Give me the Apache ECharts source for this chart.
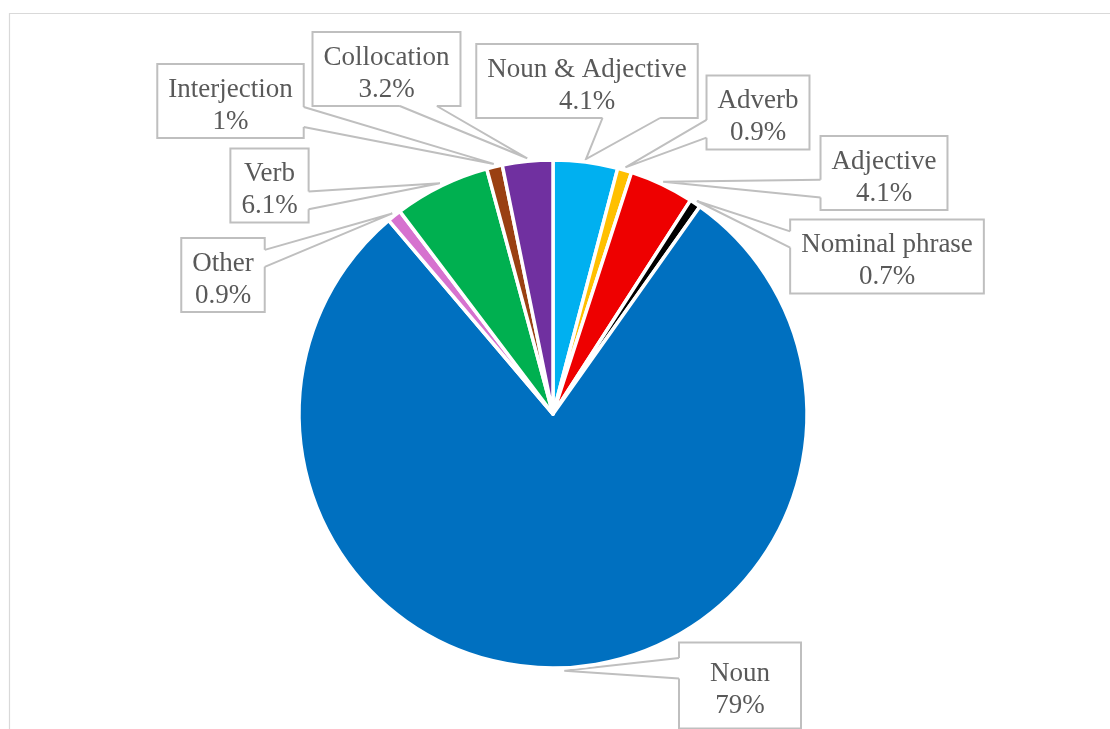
<!DOCTYPE html>
<html>
<head>
<meta charset="utf-8">
<script src="https://cdn.jsdelivr.net/npm/echarts@6/dist/echarts.min.js"></script>
<style>
  html, body { margin: 0; padding: 0; background: #fff; }
  #chart { width: 1110px; height: 729px; }
</style>
</head>
<body>
<div id="chart"></div>
<script>
// Word classes, clockwise from 12 o'clock
const categories = ['Noun & Adjective', 'Adverb', 'Adjective', 'Nominal phrase', 'Noun', 'Other', 'Verb', 'Interjection', 'Collocation'];
// Share of each class, in percent
const shares = [4.1, 0.9, 4.1, 0.7, 79, 0.9, 6.1, 1, 3.2];
const sliceColors = ['#00B0F0', '#FFC000', '#EE0000', '#000000', '#0070C0', '#D672CF', '#00B050', '#9A4012', '#7030A0'];

// Callout box centres (page pixels) and inner padding [vertical, horizontal]
const boxCenters = [[587, 81], [758, 112.5], [884, 173], [887, 256.5], [740, 685.5], [223, 275], [269.5, 185.5], [230.5, 101], [386.5, 69]];
const boxPadding = [[5, 11], [5, 11], [5, 11], [5, 11], [11, 31], [5, 11], [5, 11], [5, 11], [5, 11]];
// Which side of the box the pointer leaves from, and where along that side (fractions)
const pointerBase = [['bottom', 0.57, 0.83], ['left', 0.60, 0.84], ['left', 0.59, 0.83], ['left', 0.16, 0.38], ['left', 0.18, 0.42], ['right', 0.16, 0.39], ['right', 0.58, 0.82], ['right', 0.58, 0.85], ['bottom', 0.59, 0.84]];

const FONT = '"Liberation Serif", "Times New Roman", serif';
const FONT_SIZE = 27;
const LINE_H = 32;
const TEXT_DROP = 4.5;   // serif glyphs sit a little low in their box
const TEXT_COLOR = '#595959';
const BOX_STROKE = '#bfbfbf';

const chart = echarts.init(document.getElementById('chart'), null, { renderer: 'canvas' });

chart.setOption({
  animation: false,
  backgroundColor: '#fff',
  series: [{
    type: 'pie',
    z: 2,
    center: [553, 414],
    radius: 254,
    startAngle: 90,
    clockwise: true,
    avoidLabelOverlap: false,
    emphasis: { disabled: true },
    itemStyle: { borderColor: '#fff', borderWidth: 3.5 },
    label: {
      show: true,
      formatter: '{b}\n{c}%',
      fontFamily: FONT,
      fontSize: FONT_SIZE,
      lineHeight: LINE_H,
      color: TEXT_COLOR
    },
    labelLine: { show: false },
    labelLayout: function (p) {
      const c = boxCenters[p.dataIndex];
      return { x: c[0], y: c[1] + TEXT_DROP, align: 'center', verticalAlign: 'middle', hideOverlap: false, moveOverlap: false };
    },
    data: categories.map(function (name, i) {
      return { name: name, value: shares[i], itemStyle: { color: sliceColors[i] } };
    })
  }]
});

// Size each callout box around its two label lines
const measureCtx = document.createElement('canvas').getContext('2d');
measureCtx.font = FONT_SIZE + 'px ' + FONT;
function boxRect(i) {
  const lines = [categories[i], shares[i] + '%'];
  const w = Math.max.apply(null, lines.map(function (t) { return measureCtx.measureText(t).width; }));
  const pad = boxPadding[i];
  const bw = w + 2 * pad[1];
  const bh = lines.length * LINE_H + 2 * pad[0];
  const c = boxCenters[i];
  return { x: c[0] - bw / 2, y: c[1] - bh / 2, w: bw, h: bh };
}

// Boxes plus pointer wedges aimed at the middle of each slice's outer arc
const pieData = chart.getModel().getSeriesByIndex(0).getData();
const graphics = [{
  type: 'rect',
  silent: true,
  z: 0,
  shape: { x: 9.5, y: 13.5, width: 1200, height: 800 },
  style: { fill: 'none', stroke: '#d9d9d9', lineWidth: 1.2 }
}];

categories.forEach(function (name, i) {
  const lay = pieData.getItemLayout(i);
  const mid = (lay.startAngle + lay.endAngle) / 2;
  const rr = lay.r + 3;
  const tip = [lay.cx + rr * Math.cos(mid), lay.cy + rr * Math.sin(mid)];
  const b = boxRect(i);
  const spec = pointerBase[i];
  let p1, p2, q1, q2;
  const inset = 2;
  if (spec[0] === 'bottom') {
    const y = b.y + b.h;
    p1 = [b.x + b.w * spec[1], y]; p2 = [b.x + b.w * spec[2], y];
    q1 = [p1[0], y - inset]; q2 = [p2[0], y - inset];
  } else if (spec[0] === 'left') {
    const x = b.x;
    p1 = [x, b.y + b.h * spec[1]]; p2 = [x, b.y + b.h * spec[2]];
    q1 = [x + inset, p1[1]]; q2 = [x + inset, p2[1]];
  } else {
    const x = b.x + b.w;
    p1 = [x, b.y + b.h * spec[1]]; p2 = [x, b.y + b.h * spec[2]];
    q1 = [x - inset, p1[1]]; q2 = [x - inset, p2[1]];
  }
  graphics.push({
    type: 'rect', silent: true, z: 1,
    shape: { x: b.x, y: b.y, width: b.w, height: b.h },
    style: { fill: '#fff', stroke: BOX_STROKE, lineWidth: 2 }
  });
  graphics.push({
    type: 'polygon', silent: true, z: 1.2,
    shape: { points: [q1, p1, tip, p2, q2] },
    style: { fill: '#fff', stroke: null }
  });
  graphics.push({
    type: 'polyline', silent: true, z: 1.4,
    shape: { points: [p1, tip, p2] },
    style: { fill: null, stroke: BOX_STROKE, lineWidth: 2, lineJoin: 'miter' }
  });
});

chart.setOption({ graphic: graphics });
</script>
</body>
</html>
